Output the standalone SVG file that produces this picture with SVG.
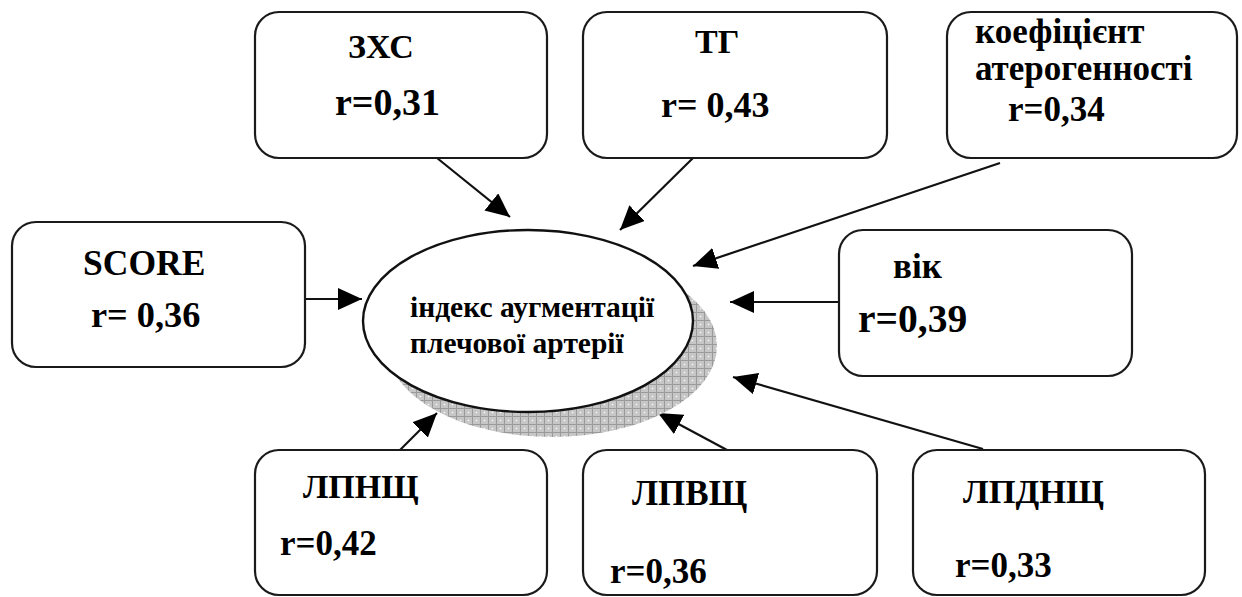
<svg xmlns="http://www.w3.org/2000/svg" width="1242" height="597" viewBox="0 0 1242 597">
  <style>
    .box { fill: #ffffff; stroke: #1a1a1a; stroke-width: 2.2; }
    .t { font-family: "Liberation Serif", "Times New Roman", serif; font-weight: bold; fill: #000; }
    .link { stroke: #111; stroke-width: 2.2; fill: none; marker-end: url(#head); }
  </style>
  <defs>
    <marker id="head" markerUnits="userSpaceOnUse" markerWidth="26" markerHeight="22" refX="24" refY="11" orient="auto">
      <path d="M0,0 L24,11 L0,22 Z" fill="#000"/>
    </marker>
    <pattern id="hatch" patternUnits="userSpaceOnUse" width="8" height="8">
      <rect width="8" height="8" fill="#c6c6c6"/>
      <path d="M0,0.5 H8 M0.5,0 V8" stroke="#9a9a9a" stroke-width="1"/>
      <circle cx="4.5" cy="4.5" r="0.8" fill="#ffffff"/>
    </pattern>
  </defs>

  <rect width="1242" height="597" fill="#ffffff"/>

  <!-- connectors -->
  <g id="connectors">
    <line class="link" x1="437" y1="158" x2="510" y2="217"/>
    <line class="link" x1="693" y1="158" x2="620" y2="230"/>
    <line class="link" x1="1000" y1="163" x2="693" y2="266"/>
    <line class="link" x1="305" y1="299" x2="362" y2="299"/>
    <line class="link" x1="839" y1="302" x2="730" y2="302"/>
    <line class="link" x1="400" y1="450" x2="437" y2="413"/>
    <line class="link" x1="727" y1="450" x2="658" y2="413"/>
    <line class="link" x1="983" y1="449" x2="733" y2="377"/>
  </g>

  <!-- central node with hatched drop shadow -->
  <g id="center">
    <ellipse cx="552" cy="346" rx="165" ry="91" fill="url(#hatch)"/>
    <ellipse cx="528" cy="321" rx="165" ry="91" fill="#ffffff" stroke="#111" stroke-width="2.4"/>
    <text class="t" x="410" y="317" font-size="29.5">індекс аугментації</text>
    <text class="t" x="410" y="353" font-size="29.5">плечової артерії</text>
  </g>

  <g id="zxs">
    <rect class="box" x="255" y="12" width="292" height="146" rx="24"/>
    <text class="t" x="348" y="58" font-size="34">ЗХС</text>
    <text class="t" x="335" y="115" font-size="38">r=0,31</text>
  </g>

  <g id="tg">
    <rect class="box" x="583" y="12" width="304" height="146" rx="24"/>
    <text class="t" x="695" y="53" font-size="34">ТГ</text>
    <text class="t" x="661" y="117" font-size="36">r= 0,43</text>
  </g>

  <g id="ka">
    <rect class="box" x="947" y="12" width="290" height="146" rx="24"/>
    <text class="t" x="975" y="43" font-size="35">коефіцієнт</text>
    <text class="t" x="975" y="80" font-size="35">атерогенності</text>
    <text class="t" x="1008" y="121" font-size="35">r=0,34</text>
  </g>

  <g id="score">
    <rect class="box" x="12" y="222" width="293" height="145" rx="24"/>
    <text class="t" x="83" y="275" font-size="35.5">SCORE</text>
    <text class="t" x="91" y="327" font-size="36.3">r= 0,36</text>
  </g>

  <g id="vik">
    <rect class="box" x="839" y="230" width="293" height="146" rx="24"/>
    <text class="t" x="893" y="278" font-size="35">вік</text>
    <text class="t" x="858" y="332" font-size="39.5">r=0,39</text>
  </g>

  <g id="lpnshch">
    <rect class="box" x="255" y="450" width="292" height="145" rx="24"/>
    <text class="t" x="303" y="498" font-size="34">ЛПНЩ</text>
    <text class="t" x="280" y="555" font-size="35">r=0,42</text>
  </g>

  <g id="lpvshch">
    <rect class="box" x="583" y="450" width="294" height="145" rx="24"/>
    <text class="t" x="632" y="505" font-size="35">ЛПВЩ</text>
    <text class="t" x="610" y="583" font-size="35">r=0,36</text>
  </g>

  <g id="lpdnshch">
    <rect class="box" x="913" y="450" width="292" height="145" rx="24"/>
    <text class="t" x="963" y="503" font-size="34.5">ЛПДНЩ</text>
    <text class="t" x="955" y="577" font-size="35">r=0,33</text>
  </g>
</svg>
